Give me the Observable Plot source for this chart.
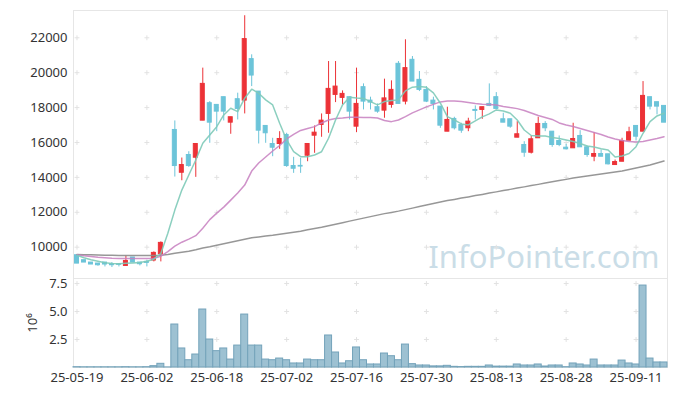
<!DOCTYPE html>
<html><head><meta charset="utf-8">
<script src="https://cdn.jsdelivr.net/npm/d3@7"></script>
<script src="https://cdn.jsdelivr.net/npm/@observablehq/plot@0.6"></script>
<style>
body{margin:0;background:#fff;font-family:"Noto Sans",sans-serif}
#chart svg{display:block}
</style>
</head><body><div id="chart"></div>
<script>
const dates = ["25-05-19","25-05-20","25-05-21","25-05-22","25-05-23","25-05-26","25-05-27","25-05-28","25-05-29","25-05-30",
"25-06-02","25-06-04","25-06-05","25-06-09","25-06-10","25-06-11","25-06-12","25-06-13","25-06-16","25-06-17",
"25-06-18","25-06-19","25-06-20","25-06-23","25-06-24","25-06-25","25-06-26","25-06-27","25-06-30","25-07-01",
"25-07-02","25-07-03","25-07-04","25-07-07","25-07-08","25-07-09","25-07-10","25-07-11","25-07-14","25-07-15",
"25-07-16","25-07-17","25-07-18","25-07-21","25-07-22","25-07-23","25-07-24","25-07-25","25-07-28","25-07-29",
"25-07-30","25-07-31","25-08-01","25-08-04","25-08-05","25-08-06","25-08-07","25-08-08","25-08-11","25-08-12",
"25-08-13","25-08-14","25-08-18","25-08-19","25-08-20","25-08-21","25-08-22","25-08-25","25-08-26","25-08-27",
"25-08-28","25-08-29","25-09-01","25-09-02","25-09-03","25-09-04","25-09-05","25-09-08","25-09-09","25-09-10",
"25-09-11","25-09-12","25-09-15","25-09-16","25-09-17"];

const open = [9540,9254,9120,9063,9120,9024,9024,8926,9409,9120, 9157,9236,9598,13300,16718,14266,15283,15128,17252,18251,
18154,18596,17137,18481,18400,20778,18917,16948,15914,15914, 16431,14651,14660,15242,16391,17005,17637,18728,18556,18596,
16908,19170,18400,18022,17827,18154,20508,18343,20738,19589, 19015,18400,18056,16620,17350,17005,16816,17866,17866,18211,
18596,17330,17330,16276,15857,15415,16242,17062,16620,16087, 15702,15667,16374,15725,15185,15340,15323,14708,14898,16104,
16948,16620,18596,18309,18096];
const high = [9540,9254,9120,9063,9120,9120,9063,9500,9409,9120, 9254,9730,10304,13300,17235,15110,15472,15914,20261,18343,
18154,18596,17447,18826,23264,21025,18917,16948,16242,16620, 16528,15150,15093,15914,16948,17637,20640,20640,18958,18596,
20261,19359,18596,18211,19629,19532,20640,21886,20927,20066, 19204,18596,18056,18022,17447,17102,17390,18096,18022,19359,
18860,17677,17330,17195,16046,16374,17447,17195,16620,16374, 15897,17102,16678,15800,16563,15570,15323,14995,16242,16873,
16948,19491,18596,18309,18096];
const low = [9060,9120,9007,8909,8869,8834,8869,8926,9120,8926, 8869,9157,9157,13300,14019,13807,14576,14002,17252,15954,
16620,17235,16471,17292,17637,19204,15914,15954,15185,15610, 14576,14232,14232,14898,15380,16299,16528,18286,18154,17292,
16563,17866,17866,17676,17390,17964,18211,18154,19491,18917, 18286,17866,16812,16620,16718,16528,16620,17292,17330,18056,
17924,17137,16815,16276,15151,15340,16242,16620,15725,15760, 15570,15667,15725,15151,14898,15185,14709,14708,14898,16104,
16104,16620,17866,17580,17137];
const close = [9060,9120,9007,8966,9007,8966,8990,9213,9120,9024, 9100,9673,10247,13300,14651,14708,14651,15914,19359,17137,
17769,17769,17447,17924,21926,19836,16678,16529,15702,16201, 14651,14496,14620,15914,16563,17252,19072,19204,18785,17769,
18211,18343,18286,17769,18527,19015,18211,20261,19491,19015, 18343,18211,16965,17292,16815,16678,17195,17810,18022,18096,
17924,17137,16908,16471,15415,16184,17062,16815,15857,15857, 15610,16201,15725,15283,15340,15185,14749,14880,16087,16586,
16333,18670,18056,18056,17137];
// volume in millions of shares
const volume = [0.03,0.02,0.02,0.02,0.02,0.02,0.02,0.03,0.02,0.02, 0.03,0.12,0.33,0.01,3.84,1.70,0.65,1.16,5.18,2.50,
1.46,1.70,0.71,1.96,4.73,1.96,1.96,0.71,0.65,0.80, 0.65,0.36,0.36,0.71,0.65,0.65,2.86,1.34,0.36,0.56,
1.79,0.65,0.27,0.27,1.25,1.01,0.65,2.05,0.30,0.18, 0.18,0.10,0.10,0.15,0.06,0.04,0.06,0.06,0.06,0.18,
0.08,0.08,0.08,0.27,0.18,0.18,0.27,0.09,0.18,0.18, 0.03,0.36,0.27,0.18,0.71,0.18,0.18,0.18,0.62,0.36,
0.27,7.32,0.80,0.45,0.45];
const ma5 = [9541,9397,9282,9196,9110,9064,9053,9081,9099,9121, 9196,9311,9638,10804,12125,13273,14134,14996,15955,16431,
16908,17579,17964,17769,18538,19055,18826,18441,18154,17103, 16144,15472,15185,15185,15283,15472,16242,17292,18154,18596,
18556,18527,18343,18154,18343,18400,18441,18958,19170,19204, 19159,18843,18251,17482,17292,17063,17005,17235,17465,17637,
17867,17809,17677,17292,16718,16402,16374,16374,16287,16230, 16144,16058,15943,15799,15742,15644,15570,15168,15225,15369,
15759,16529,17195,17522,17677];
const ma20 = [9569,9512,9466,9426,9397,9368,9351,9351,9351,9351, 9351,9368,9483,9742,10057,10287,10459,10660,11091,11579,
11952,12297,12699,13101,13560,14364,14823,15168,15512,15828, 16201,16460,16689,16804,16908,17120,17292,17378,17407,17447,
17447,17436,17436,17407,17263,17195,17292,17482,17694,17867, 18039,18182,18326,18383,18383,18355,18297,18240,18194,18182,
18154,18067,17999,17941,17838,17694,17551,17436,17321,17120, 17005,16919,16804,16689,16575,16460,16316,16201,16115,16058,
16029,16058,16144,16230,16333];
const ma120 = [9581,9569,9564,9552,9541,9541,9529,9523,9523,9523, 9523,9529,9541,9587,9656,9713,9770,9856,9954,10029,
10115,10201,10287,10373,10459,10545,10591,10643,10689,10746, 10804,10861,10919,11005,11074,11148,11235,11321,11407,11493,
11579,11665,11751,11837,11924,11992,12067,12153,12239,12326, 12412,12498,12584,12670,12739,12814,12882,12957,13026,13101,
13170,13244,13313,13388,13457,13531,13600,13675,13744,13818, 13887,13962,14019,14077,14134,14192,14249,14307,14364,14450,
14536,14622,14708,14823,14938];

const xTickLabels = ["25-05-19","25-06-02","25-06-18","25-07-02","25-07-16","25-07-30","25-08-13","25-08-28","25-09-11"];
const priceTicks = [10000,12000,14000,16000,18000,20000,22000];
const volumeTicks = [2.5,5.0,7.5];
const watermark = "InfoPointer.com";

const rows = dates.map((d,i)=>({date:d, open:open[i], high:high[i], low:low[i], close:close[i],
  volume:volume[i], ma5:ma5[i], ma20:ma20[i], ma120:ma120[i]}));

const UP = "#ec3237", DOWN = "#6cc4d9";
const candleColor = d => d.close > d.open ? UP : DOWN;
const W = 677, ML = 73, MR = 10;
const style = {fontFamily:"'Noto Sans', sans-serif", fontSize:"13px", color:"#333", background:"transparent", overflow:"visible"};
const gridMark = (ys) => Plot.dot(d3.cross(xTickLabels, ys), {x:d=>d[0], y:d=>d[1], symbol:"plus", r:1.7, stroke:"#e2e2e2", strokeWidth:1});

const topChart = Plot.plot({
  width: W, height: 278, marginTop: 10, marginBottom: 0, marginLeft: ML, marginRight: MR,
  style,
  x: {type:"band", domain: dates, padding: 0, axis: null},
  y: {domain: [8206, 23564], axis: null},
  color: {type: "identity"},
  marks: [
    Plot.frame({stroke:"#e6e6e6"}),
    Plot.text([watermark], {text: d=>d, frameAnchor:"bottom-right", dx:-8, dy:-11, fontSize:31, fill:"#cadde7", textAnchor:"end", lineAnchor:"bottom"}),
    gridMark(priceTicks),
    Plot.axisY(priceTicks, {tickSize:0, tickPadding:6, tickFormat: d=>String(d), fontSize:13, fill:"#333", label:null}),
    Plot.ruleX(rows, {x:"date", y1:"low", y2:"high", stroke: candleColor, strokeWidth:1}),
    Plot.barY(rows, {x:"date", y1:"open", y2:"close", fill: candleColor, stroke: candleColor, strokeWidth:1, insetLeft:1.5, insetRight:1.5}),
    Plot.lineY(rows, {x:"date", y:"ma120", stroke:"#8c8c8c", strokeWidth:1.5, strokeOpacity:0.9}),
    Plot.lineY(rows, {x:"date", y:"ma20", stroke:"#c77fc0", strokeWidth:1.5, strokeOpacity:0.85}),
    Plot.lineY(rows, {x:"date", y:"ma5", stroke:"#7ecab8", strokeWidth:1.5, strokeOpacity:0.9})
  ]
});

const bottomChart = Plot.plot({
  width: W, height: 118, marginTop: 0, marginBottom: 29, marginLeft: ML, marginRight: MR,
  style,
  x: {type:"band", domain: dates, padding: 0},
  y: {domain: [0, 7.95]},
  marks: [
    Plot.frame({stroke:"#e6e6e6"}),
    gridMark(volumeTicks),
    Plot.barY(rows, {x:"date", y:"volume", fill:"#9dc1d2", stroke:"#74a3ba", strokeWidth:1}),
    Plot.axisX(xTickLabels, {tickSize:0, tickPadding:5, fontSize:13, fill:"#333", label:null}),
    Plot.axisY(volumeTicks, {tickSize:0, tickPadding:6, tickFormat: d=>d.toFixed(1), fontSize:13, fill:"#333",
      label:"10⁶", labelAnchor:"center", labelArrow:"none", labelOffset:46})
  ]
});

const el = document.getElementById("chart");
el.append(topChart, bottomChart);
</script>
</body></html>
